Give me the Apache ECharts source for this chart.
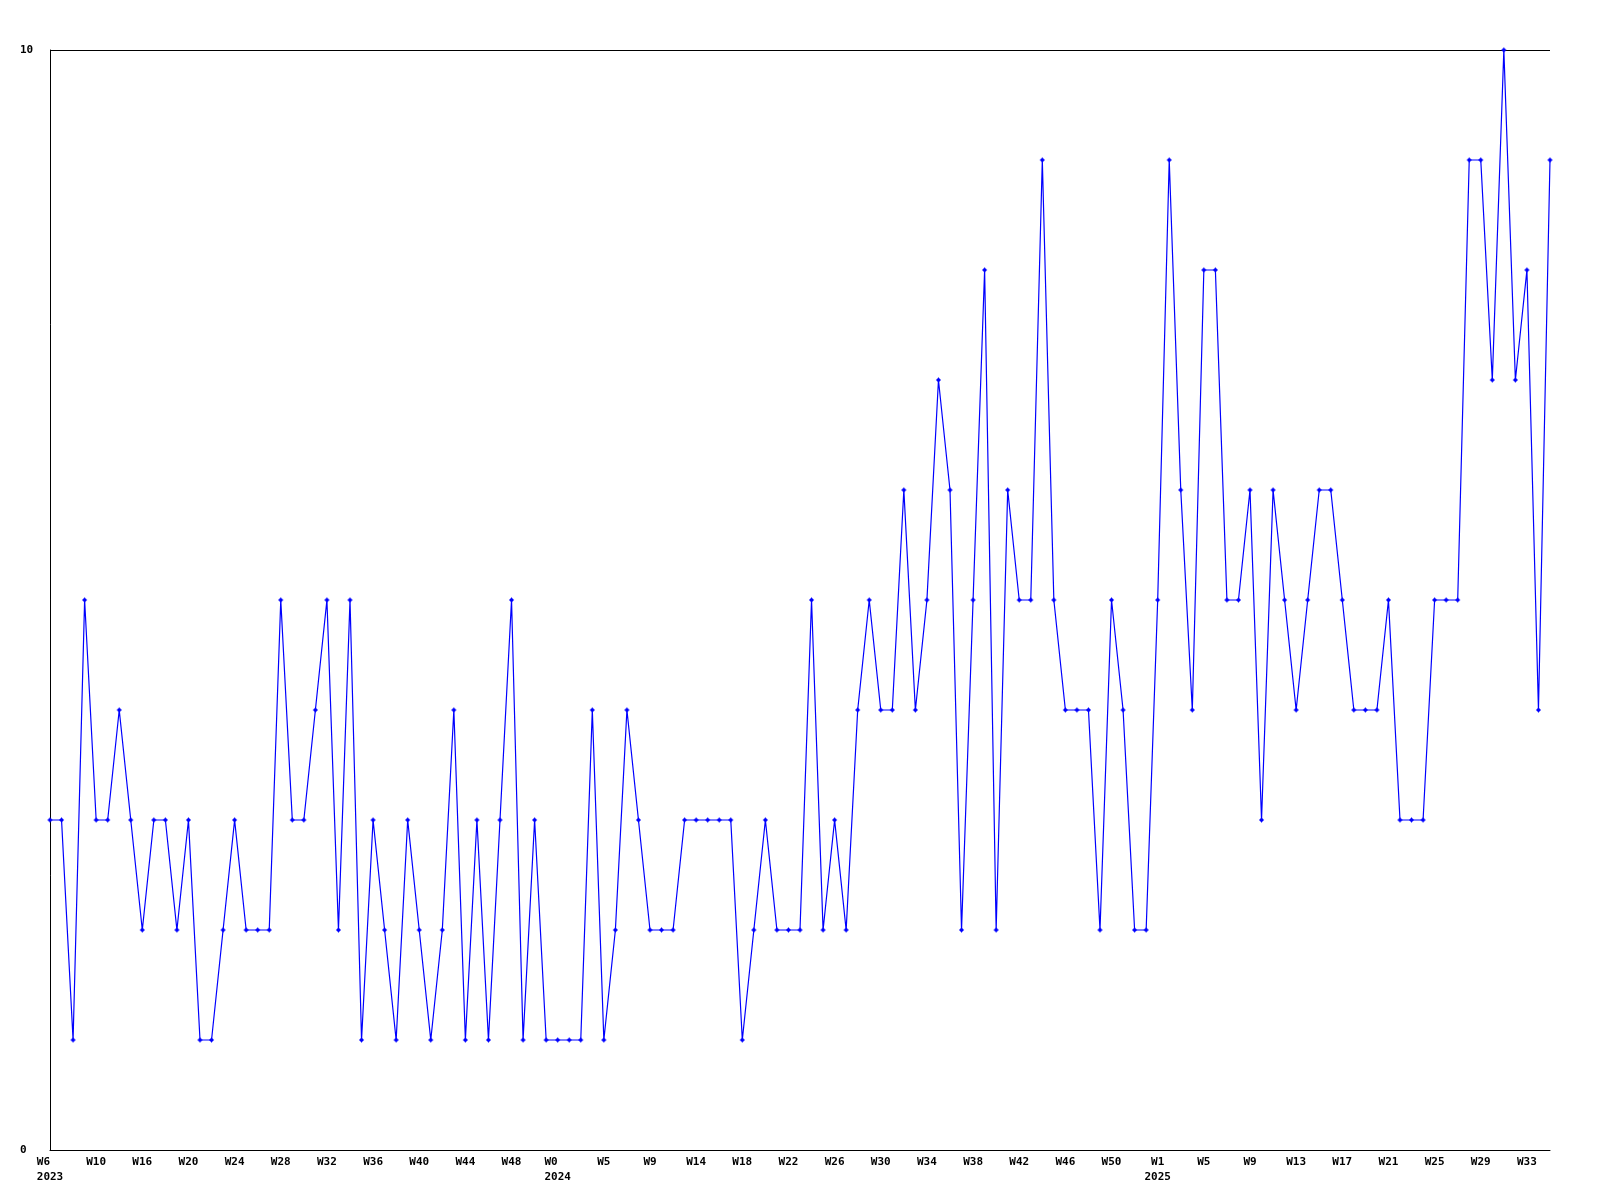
<!DOCTYPE html>
<html>
<head>
<meta charset="utf-8">
<title>Weekly chart</title>
<script src="https://cdn.jsdelivr.net/npm/echarts@6/dist/echarts.min.js"></script>
<style>
  html, body { margin: 0; padding: 0; background: #ffffff; }
  #chart { width: 1600px; height: 1200px; }
</style>
</head>
<body>
<div id="chart"></div>
<script>
// Week categories (one per point)
const weeks2023 = ['W6','W7','W8','W9','W10','W11','W13','W14','W16','W17','W18','W19','W20','W21','W22','W23','W24','W25','W26','W27','W28','W29','W30','W31','W32','W33','W34','W35','W36','W37','W38','W39','W40','W41','W42','W43','W44','W45','W46','W47','W48','W49','W50','W51'];
const weeks2024 = ['W0','W1','W2','W3','W5','W6','W7','W8','W9','W10','W11','W13','W14','W15','W16','W17','W18','W19','W20','W21','W22','W23','W24','W25','W26','W27','W28','W29','W30','W31','W32','W33','W34','W35','W36','W37','W38','W39','W40','W41','W42','W43','W44','W45','W46','W47','W48','W49','W50','W51','W52','W53'];
const weeks2025 = ['W1','W2','W3','W4','W5','W6','W7','W8','W9','W10','W11','W12','W13','W14','W15','W16','W17','W18','W19','W20','W21','W22','W23','W24','W25','W26','W27','W28','W29','W30','W31','W32','W33','W34','W35'];
const categories = weeks2023.concat(weeks2024, weeks2025);

// Year labels shown under the first labelled week of each year
const yearIndex = [0, 44, 96];
const yearLabels = ['2023', '2024', '2025'];
const yearLeftAligned = [true, true, false];

// Y-axis tick labels
const yTicks = [0, 10];

// Series values
const values = [
  3,3,1,5,3,3,4,3,2,3,
  3,2,3,1,1,2,3,2,2,2,
  5,3,3,4,5,2,5,1,3,2,
  1,3,2,1,2,4,1,3,1,3,
  5,1,3,1,1,1,1,4,1,2,
  4,3,2,2,2,3,3,3,3,3,
  1,2,3,2,2,2,5,2,3,2,
  4,5,4,4,6,4,5,7,6,2,
  5,8,2,6,5,5,9,5,4,4,
  4,2,5,4,2,2,5,9,6,4,
  8,8,5,5,6,3,6,5,4,5,
  6,6,5,4,4,4,5,3,3,3,
  5,5,5,9,9,7,10,7,8,4,
  9
];

const chart = echarts.init(document.getElementById('chart'), null, { renderer: 'canvas' });
const labelFont = {
  fontFamily: '"DejaVu Sans Mono", "Liberation Mono", monospace',
  fontWeight: 'bold',
  fontSize: 11,
  color: '#000000'
};

chart.setOption({
  animation: false,
  backgroundColor: '#ffffff',
  grid: { left: 50, right: 50, top: 50, bottom: 50, containLabel: false },
  xAxis: {
    type: 'category',
    data: categories,
    boundaryGap: false,
    axisLine: { show: true, lineStyle: { color: '#000000', width: 1 } },
    axisTick: { show: false },
    splitLine: { show: false },
    axisLabel: Object.assign({}, labelFont, {
      interval: 3,
      margin: 5,
      lineHeight: 15,
      align: 'center',
      formatter: function (val, idx) {
        const k = yearIndex.indexOf(idx);
        if (k < 0) return val;
        const y = yearLabels[k];
        const w = yearLeftAligned[k] ? val.padEnd(y.length, ' ') : val;
        return w + '\n' + y;
      }
    })
  },
  yAxis: {
    type: 'value',
    min: yTicks[0],
    max: yTicks[yTicks.length - 1],
    interval: yTicks[1] - yTicks[0],
    axisLine: { show: true, lineStyle: { color: '#000000', width: 1 } },
    axisTick: { show: false },
    splitLine: { show: true, lineStyle: { color: '#000000', width: 1 } },
    axisLabel: Object.assign({}, labelFont, {
      align: 'left',
      margin: 30
    })
  },
  series: [{
    type: 'line',
    data: values,
    showAllSymbol: true,
    symbol: 'path://M2,0H3V1H4V2H5V3H4V4H3V5H2V4H1V3H0V2H1V1H2Z',
    symbolSize: 5,
    lineStyle: { color: '#0000ff', width: 1.2 },
    itemStyle: { color: '#0000ff' },
    emphasis: { disabled: true }
  }]
});
</script>
</body>
</html>
